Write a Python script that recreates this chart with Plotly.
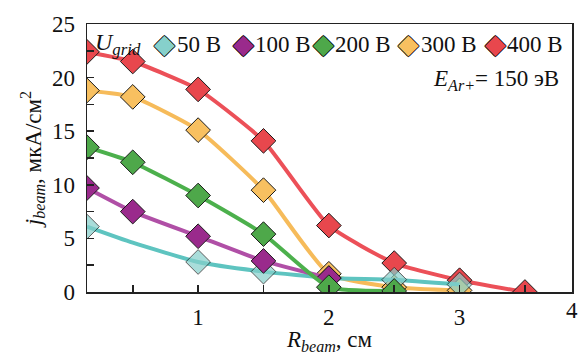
import plotly.graph_objects as go

# ---- data ----
r_beam = [0.15, 0.5, 1.0, 1.5, 2.0, 2.5, 3.0, 3.5]
j_50 = [6.1, 4.6, 2.8, 1.9, 1.3, 1.15, 0.7]
j_100 = [9.7, 7.5, 5.2, 2.9, 1.3]
j_200 = [13.5, 12.1, 9.0, 5.4, 0.45, 0.1]
j_300 = [18.8, 18.2, 15.1, 9.5, 1.7, 0.45, 0.15]
j_400 = [22.4, 21.5, 18.9, 14.1, 6.2, 2.7, 1.1, 0.0]
series_names = ["50 В", "100 В", "200 В", "300 В", "400 В"]
x_tickvals = [1, 2, 3]
y_tickvals = [0, 5, 10, 15, 20, 25]

marker_colors = ["#86d0cb", "#9a2a8c", "#4ea84a", "#f8c060", "#e8474d"]
line_colors = ["#5ec4c0", "#b04fa6", "#4cb04c", "#f6bb5a", "#ec5058"]
values = [j_50, j_100, j_200, j_300, j_400]
# marker visibility per point (the 50 V curve has no marker at R = 0.5)
marker_sizes = [[19, 0, 19, 19, 19, 19, 19], None, None, None, None]

FONT = "Liberation Serif, Times New Roman, serif"
DARK = "#222222"
FS = 23

fig = go.Figure()
draw_order = [4, 3, 0, 1, 2]
for i in draw_order:
    ys = values[i]
    xs = r_beam[:len(ys)]
    size = marker_sizes[i] if marker_sizes[i] is not None else 19
    fig.add_trace(go.Scatter(
        x=xs, y=ys, name=series_names[i], mode="lines+markers",
        line=dict(color=line_colors[i], width=4, shape="spline", smoothing=0.5),
        marker=dict(symbol="diamond", size=size, color=marker_colors[i],
                    line=dict(color="#1a1a1a", width=1)),
        showlegend=False, hoverinfo="skip",
    ))

# ---- legend built from annotations (compact, like the original) ----
L, W = 87.0, 487.0
T, H = 24.0, 268.0
def px_x(p):
    return (p - L) / W
def px_y(p):
    return (T + H - p) / H

legend_y = px_y(44)
annotations = [dict(
    x=px_x(93), y=legend_y, xref="paper", yref="paper", xanchor="left", yanchor="middle",
    text="<i>U</i><sub><i>grid</i></sub>", showarrow=False,
    font=dict(family=FONT, size=FS + 1, color="#111"))]
glyph_centers = [165, 244, 324, 410, 497]
for k in range(5):
    annotations.append(dict(
        x=px_x(glyph_centers[k]), y=legend_y, xref="paper", yref="paper",
        xanchor="center", yanchor="middle", text="◆", showarrow=False, yshift=1,
        font=dict(family="DejaVu Sans", size=27, color=marker_colors[k],
                  shadow="1px 0 0 #111, -1px 0 0 #111, 0 1px 0 #111, 0 -1px 0 #111")))
    annotations.append(dict(
        x=px_x(glyph_centers[k] + 10), y=legend_y, xref="paper", yref="paper",
        xanchor="left", yanchor="middle", text=series_names[k], showarrow=False,
        font=dict(family=FONT, size=FS, color="#111")))

annotations.append(dict(
    x=px_x(563), y=px_y(80), xref="paper", yref="paper", xanchor="right", yanchor="middle",
    text="<i>E</i><sub><i>Ar+</i></sub>= 150 эВ", showarrow=False,
    font=dict(family=FONT, size=FS, color="#111")))
annotations.append(dict(
    x=1.0, y=0, xref="paper", yref="paper", xanchor="center", yanchor="top",
    text="4", showarrow=False, yshift=-4,
    font=dict(family=FONT, size=FS, color="#111")))

axis_common = dict(
    showline=True, mirror=True, linecolor=DARK, linewidth=1.5,
    ticks="inside", ticklen=7, tickwidth=1.5, tickcolor=DARK,
    showgrid=False, zeroline=False,
    tickfont=dict(family=FONT, size=FS, color="#111"),
)

fig.update_layout(
    width=583, height=355,
    margin=dict(l=87, r=9, t=24, b=63),
    plot_bgcolor="white", paper_bgcolor="white",
    hovermode=False,
    xaxis=dict(range=[0.15, 3.86], tickmode="array", tickvals=x_tickvals,
               minor=dict(ticks="inside", dtick=0.5, tick0=0, ticklen=7, tickwidth=1.5,
                          tickcolor=DARK, showgrid=False),
               ticklabelstandoff=4,
               title=dict(text="<i>R</i><sub><i>beam</i></sub>, см", standoff=0,
                          font=dict(family=FONT, size=FS, color="#111")),
               **axis_common),
    yaxis=dict(range=[0, 25], tickmode="array", tickvals=y_tickvals,
               minor=dict(ticks="inside", dtick=2.5, tick0=0, ticklen=7, tickwidth=1.5,
                          tickcolor=DARK, showgrid=False),
               ticklabelstandoff=6,
               title=dict(text="<i>j</i><sub><i>beam</i></sub>, мкА/см<sup>2</sup>", standoff=4,
                          font=dict(family=FONT, size=FS, color="#111")),
               **axis_common),
    annotations=annotations,
)

fig.write_html("out.html", config={"displayModeBar": False, "staticPlot": True},
               post_script="document.body.style.margin='0';document.body.style.overflow='hidden';")
